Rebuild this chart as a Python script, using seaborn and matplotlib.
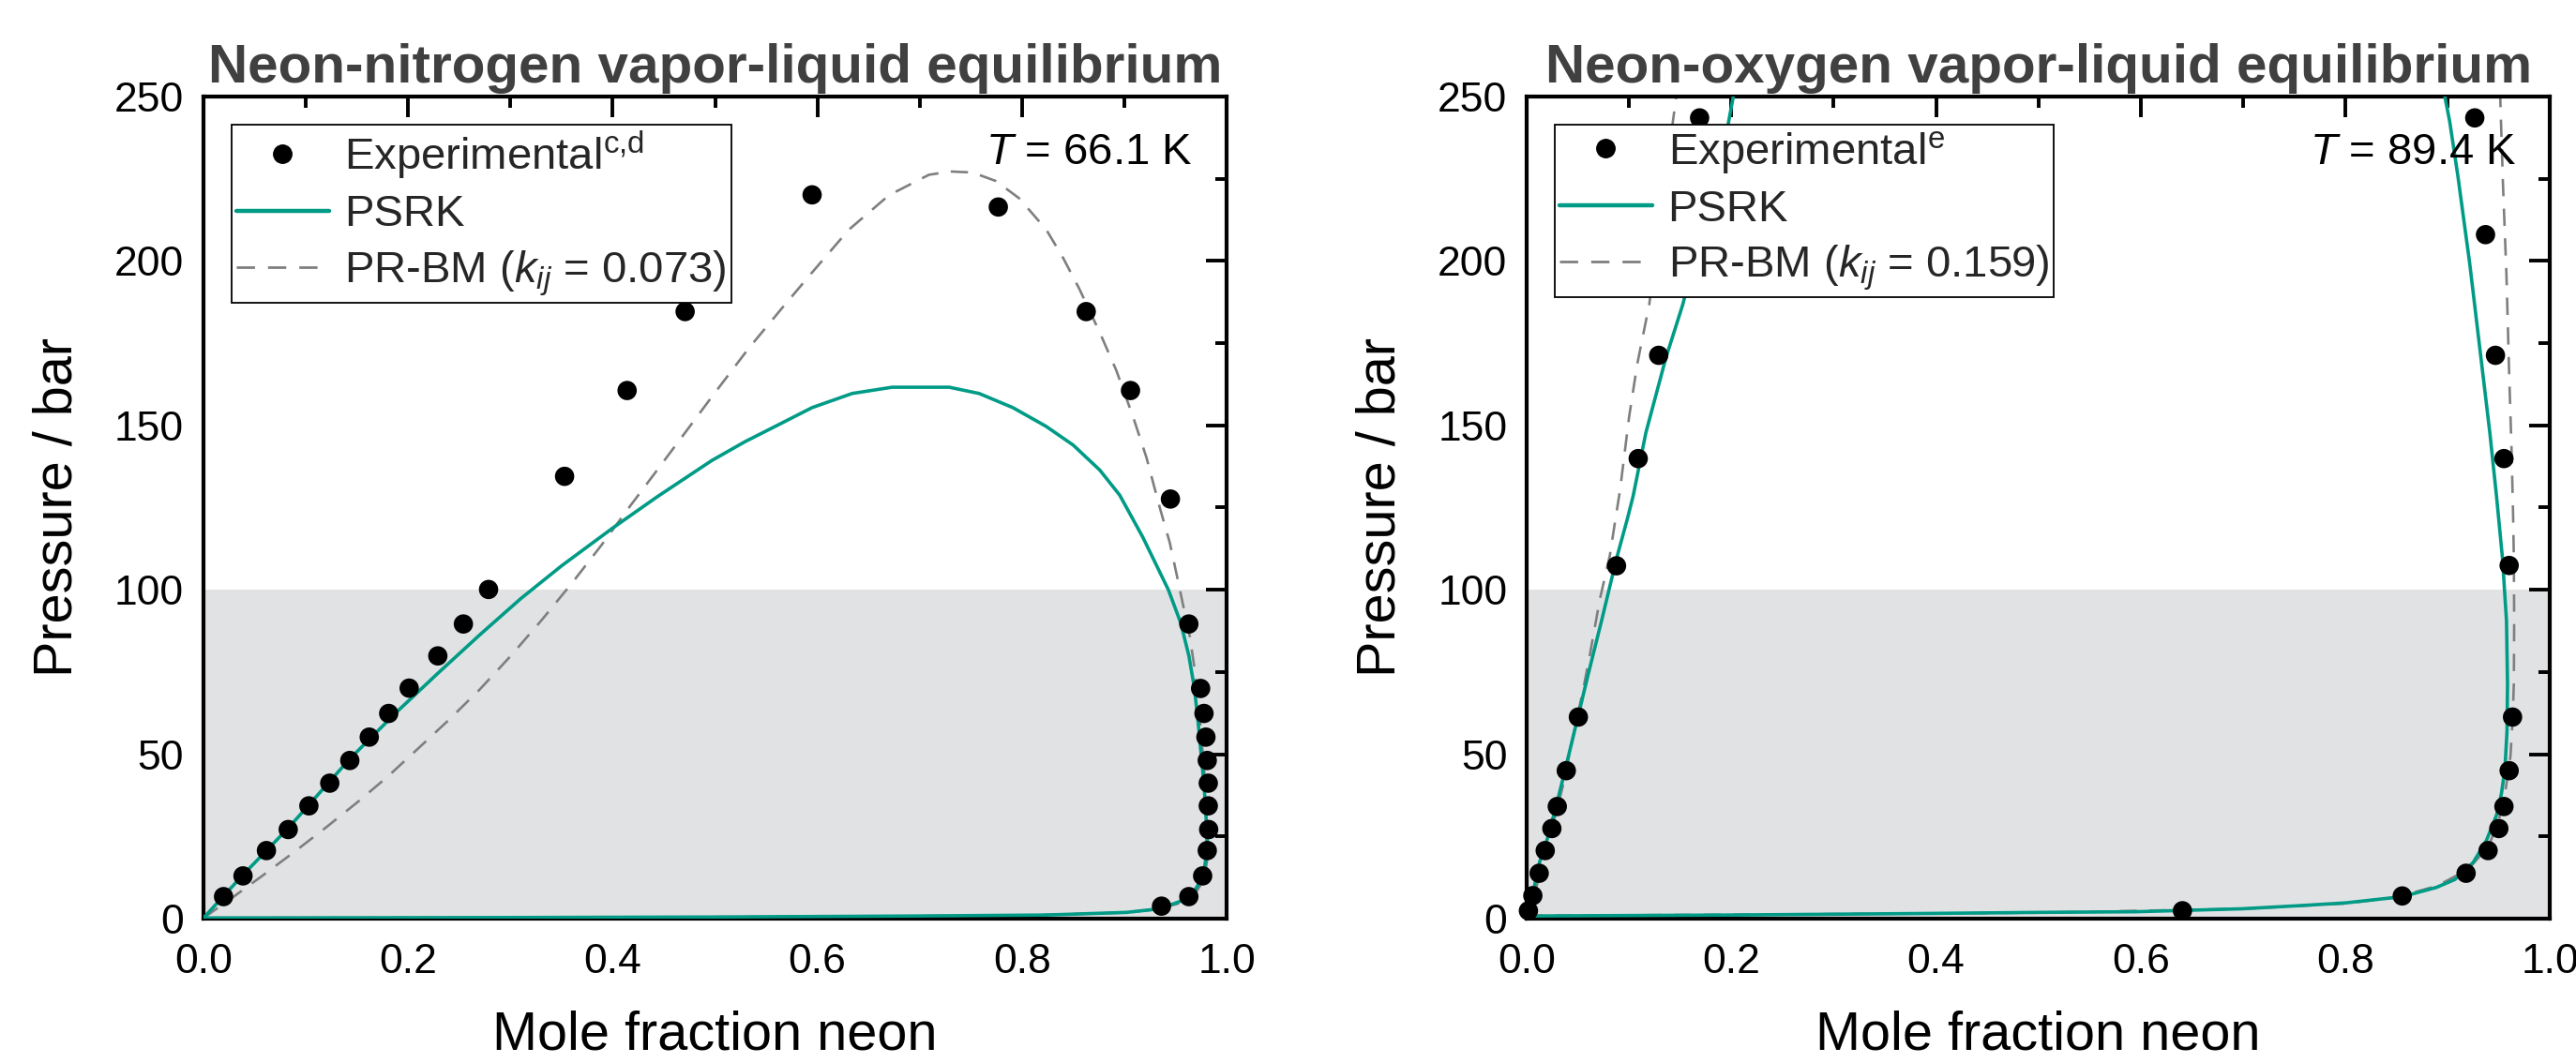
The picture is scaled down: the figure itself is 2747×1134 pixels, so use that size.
import matplotlib
matplotlib.use("Agg")
import matplotlib.pyplot as plt
import seaborn as sns
import numpy as np
import pandas as pd
from matplotlib.ticker import MultipleLocator
from matplotlib.lines import Line2D

# ---------------- data ----------------
# Neon-nitrogen, T = 66.1 K
n2_exp_x = [0.0196, 0.0386, 0.0615, 0.0828, 0.103, 0.1234, 0.143, 0.162, 0.181, 0.201,
            0.229, 0.254, 0.2786, 0.3529, 0.414, 0.4707, 0.5948,
            0.7768, 0.8627, 0.906, 0.945, 0.963, 0.9745, 0.9778, 0.9797, 0.981,
            0.982, 0.982, 0.9824, 0.981, 0.9765, 0.963, 0.9363]
n2_exp_p = [6.7, 13.0, 20.7, 27.1, 34.3, 41.2, 48.1, 55.2, 62.4, 70.1,
            79.9, 89.6, 100.1, 134.5, 160.6, 184.6, 220.1,
            216.4, 184.6, 160.6, 127.6, 89.6, 70.0, 62.4, 55.2, 48.1,
            41.2, 34.3, 27.1, 20.7, 13.0, 6.7, 3.8]

n2_psrk_x = [0.0, 0.0196, 0.0386, 0.083, 0.143, 0.189, 0.229, 0.27, 0.31, 0.35,
             0.40, 0.443, 0.4967, 0.529, 0.562, 0.5948, 0.634, 0.673, 0.7288, 0.758,
             0.791, 0.8235, 0.85, 0.876, 0.8954, 0.918, 0.943, 0.955, 0.963, 0.9685,
             0.972, 0.975, 0.978, 0.980, 0.981, 0.977, 0.967, 0.954, 0.9346, 0.902,
             0.8235, 0.693, 0.5, 0.25, 0.0]
n2_psrk_p = [0.2, 6.9, 13.3, 27.6, 48.6, 62.9, 74.6, 86.3, 97.3, 107.3,
             118.8, 128.2, 139.3, 145.0, 150.2, 155.4, 159.7, 161.6, 161.6, 159.7,
             155.4, 149.7, 144.0, 136.4, 128.8, 116.0, 100.0, 90.0, 80.0, 70.0,
             60.0, 50.0, 40.0, 30.0, 21.0, 12.9, 7.6, 5.2, 3.0, 1.9,
             1.1, 0.8, 0.5, 0.3, 0.2]

n2_prbm_x = [0.0, 0.03, 0.06, 0.09, 0.12, 0.15, 0.18, 0.21, 0.24, 0.27,
             0.30, 0.33, 0.36, 0.39, 0.4134, 0.44, 0.47, 0.50, 0.533, 0.565,
             0.5948, 0.6307, 0.67, 0.709, 0.73, 0.7516, 0.7745, 0.797, 0.8235, 0.84,
             0.856, 0.876, 0.892, 0.9085, 0.9216, 0.9346, 0.9444, 0.951, 0.9575, 0.964,
             0.969, 0.974, 0.978, 0.981, 0.982, 0.978, 0.968, 0.952, 0.93, 0.9,
             0.8, 0.6, 0.3, 0.0]
n2_prbm_p = [0.2, 6.8, 13.6, 20.6, 27.8, 35.3, 43.2, 51.8, 60.5, 69.7,
             79.8, 90.6, 102.0, 114.0, 124.0, 135.0, 147.5, 160.0, 173.5, 185.5,
             196.5, 209.5, 220.0, 226.2, 227.2, 226.9, 224.3, 219.1, 209.6, 201.0,
             191.5, 178.2, 166.8, 152.6, 140.2, 125.0, 114.3, 104.8, 95.2, 85.7,
             75.2, 60.0, 45.0, 30.0, 20.0, 12.0, 7.0, 4.5, 2.8, 1.8,
             1.0, 0.6, 0.3, 0.2]

# Neon-oxygen, T = 89.4 K
o2_exp_x = [0.0016, 0.0059, 0.0121, 0.018, 0.0245, 0.0298, 0.0386, 0.0504, 0.0877, 0.1089,
            0.1289, 0.1689,
            0.6408, 0.8556, 0.918, 0.9395, 0.95, 0.955, 0.9601, 0.9634, 0.9601, 0.955,
            0.9467, 0.937, 0.9265]
o2_exp_p = [2.4, 7.0, 13.8, 20.7, 27.4, 34.1, 45.0, 61.3, 107.3, 139.9,
            171.3, 243.5,
            2.4, 6.9, 13.8, 20.7, 27.4, 34.1, 45.0, 61.3, 107.4, 139.9,
            171.3, 208.0, 243.5]

o2_psrk_liq_x = [0.0, 0.001, 0.0059, 0.0124, 0.0206, 0.0288, 0.0386, 0.0504, 0.06, 0.073,
                 0.0877, 0.0984, 0.104, 0.1164, 0.136, 0.1525, 0.197, 0.203]
o2_psrk_liq_p = [0.8, 1.4, 7.6, 17.1, 24.8, 34.3, 46.7, 61.9, 74.3, 90.5,
                 109.5, 121.7, 128.6, 147.8, 170.6, 186.8, 241.9, 252.0]
o2_psrk_vap_x = [0.896, 0.902, 0.91, 0.9216, 0.9314, 0.9412, 0.9477, 0.9536, 0.9575, 0.9585,
                 0.958, 0.956, 0.9526, 0.9477, 0.9379, 0.925, 0.907, 0.889, 0.856, 0.8007,
                 0.758, 0.699, 0.5948, 0.5, 0.4, 0.2, 0.0]
o2_psrk_vap_p = [252.0, 242.4, 225.8, 199.1, 173.5, 147.8, 128.6, 109.5, 90.5, 71.4,
                 57.1, 45.7, 38.1, 31.4, 23.8, 17.1, 11.9, 9.5, 6.7, 4.8,
                 4.0, 3.0, 2.1, 1.9, 1.6, 1.1, 0.8]

o2_prbm_liq_x = [0.0, 0.008, 0.02, 0.035, 0.045, 0.055, 0.0615, 0.0714, 0.0812, 0.0869,
                 0.091, 0.1, 0.108, 0.1197, 0.1426, 0.147]
o2_prbm_liq_p = [0.9, 8.0, 22.0, 40.0, 55.0, 69.5, 80.0, 97.1, 110.5, 122.0,
                 130.0, 152.6, 168.7, 186.8, 242.0, 252.0]
o2_prbm_vap_x = [0.9512, 0.9516, 0.954, 0.9575, 0.96, 0.9624, 0.964, 0.9647, 0.965, 0.9647,
                 0.9634, 0.9614, 0.957, 0.95, 0.94, 0.92, 0.89, 0.85, 0.8, 0.7,
                 0.5, 0.2, 0.0]
o2_prbm_vap_p = [252.0, 247.6, 223.9, 195.3, 166.8, 143.0, 122.0, 109.5, 90.5, 71.4,
                 60.0, 49.5, 40.0, 30.0, 22.0, 15.0, 10.0, 6.5, 4.6, 3.0,
                 1.8, 1.2, 0.9]

titles = ["Neon-nitrogen vapor-liquid equilibrium", "Neon-oxygen vapor-liquid equilibrium"]
temps = ["$T$ = 66.1 K", "$T$ = 89.4 K"]
exp_labels = [r"Experimental$^{\mathrm{c{,}d}}$", r"Experimental$^{\mathrm{e}}$"]
prbm_labels = [r"PR-BM ($k_{ij}$ = 0.073)", r"PR-BM ($k_{ij}$ = 0.159)"]
psrk_label = "PSRK"
xlabel = "Mole fraction neon"
ylabel = "Pressure / bar"
xtick_vals = [0.0, 0.2, 0.4, 0.6, 0.8, 1.0]
xtick_text = ["0.0", "0.2", "0.4", "0.6", "0.8", "1.0"]
shade_top = 100

# ---------------- style ----------------
sns.set_theme(style="white")
plt.rcParams["font.family"] = ["Liberation Sans", "DejaVu Sans"]
plt.rcParams["mathtext.fontset"] = "custom"
plt.rcParams["mathtext.rm"] = "Liberation Sans"
plt.rcParams["mathtext.it"] = "Liberation Sans:italic"
plt.rcParams["mathtext.bf"] = "Liberation Sans:bold"

TEAL = "#009B86"
GREY = "#7f7f7f"
SHADE = "#e1e2e4"
DASH = (0, (7, 5))

fig = plt.figure(figsize=(27.47, 11.34), dpi=100)
ax1 = fig.add_axes([0.0790, 0.1358, 0.3972, 0.7734])
ax2 = fig.add_axes([0.5927, 0.1358, 0.3972, 0.7734])


def line(ax, xs, ps, **kw):
    df = pd.DataFrame({"x": xs, "p": ps})
    sns.lineplot(data=df, x="x", y="p", sort=False, estimator=None, ax=ax, **kw)


def style_axes(ax, title, temp, exp_label, prbm_label):
    ax.axhspan(0, shade_top, color=SHADE, zorder=0, lw=0)
    ax.set_xlim(0, 1)
    ax.set_ylim(0, 250)
    ax.xaxis.set_minor_locator(MultipleLocator(0.1))
    ax.yaxis.set_major_locator(MultipleLocator(50))
    ax.yaxis.set_minor_locator(MultipleLocator(25))
    ax.set_xticks(xtick_vals)
    ax.set_xticklabels(xtick_text)
    ax.tick_params(which="both", direction="in", top=True, right=True, color="black",
                   width=2.8, labelsize=32, labelcolor="black")
    ax.tick_params(which="major", length=16)
    ax.tick_params(which="minor", length=8.5)
    ax.tick_params(axis="x", which="both", pad=19)
    ax.tick_params(axis="y", which="both", pad=15)
    for s in ax.spines.values():
        s.set_color("black")
        s.set_linewidth(3.0)
        s.set_visible(True)
    ax.set_xlabel(xlabel, fontsize=41.5, labelpad=22, color="black")
    ax.set_ylabel(ylabel, fontsize=41.5, labelpad=24, color="black")
    ax.set_title(title, fontsize=42, fontweight="bold", color="#404040", pad=11)
    ax.text(0.967, 0.918, temp, transform=ax.transAxes, ha="right", va="baseline",
            fontsize=34, color="black")
    handles = [
        Line2D([], [], marker="o", color="black", linestyle="none", markersize=14),
        Line2D([], [], color=TEAL, lw=3.2),
        Line2D([], [], color=GREY, lw=2.0, linestyle=DASH),
    ]
    leg = ax.legend(handles, [exp_label, psrk_label, prbm_label], loc="upper left",
                    bbox_to_anchor=(0.0275, 0.966), borderaxespad=0, fontsize=34,
                    frameon=True, fancybox=False, framealpha=1, edgecolor="black",
                    borderpad=0.1, labelspacing=0.3, handlelength=2.1,
                    handletextpad=0.35)
    leg.get_frame().set_linewidth(1.3)
    leg.set_zorder(10)


# left: neon-nitrogen
line(ax1, n2_prbm_x, n2_prbm_p, color=GREY, lw=1.9, linestyle=DASH, zorder=2)
line(ax1, n2_psrk_x, n2_psrk_p, color=TEAL, lw=2.6, zorder=3)
sns.scatterplot(x=n2_exp_x, y=n2_exp_p, ax=ax1, color="black", s=220, edgecolor="none",
                zorder=4, clip_on=False, legend=False)
style_axes(ax1, titles[0], temps[0], exp_labels[0], prbm_labels[0])

# right: neon-oxygen
line(ax2, o2_prbm_liq_x, o2_prbm_liq_p, color=GREY, lw=1.9, linestyle=DASH, zorder=2)
line(ax2, o2_prbm_vap_x, o2_prbm_vap_p, color=GREY, lw=1.9, linestyle=DASH, zorder=2)
line(ax2, o2_psrk_liq_x, o2_psrk_liq_p, color=TEAL, lw=2.6, zorder=3)
line(ax2, o2_psrk_vap_x, o2_psrk_vap_p, color=TEAL, lw=2.6, zorder=3)
sns.scatterplot(x=o2_exp_x, y=o2_exp_p, ax=ax2, color="black", s=220, edgecolor="none",
                zorder=4, clip_on=False, legend=False)
style_axes(ax2, titles[1], temps[1], exp_labels[1], prbm_labels[1])

fig.savefig("out.png", dpi=100, facecolor="white")
